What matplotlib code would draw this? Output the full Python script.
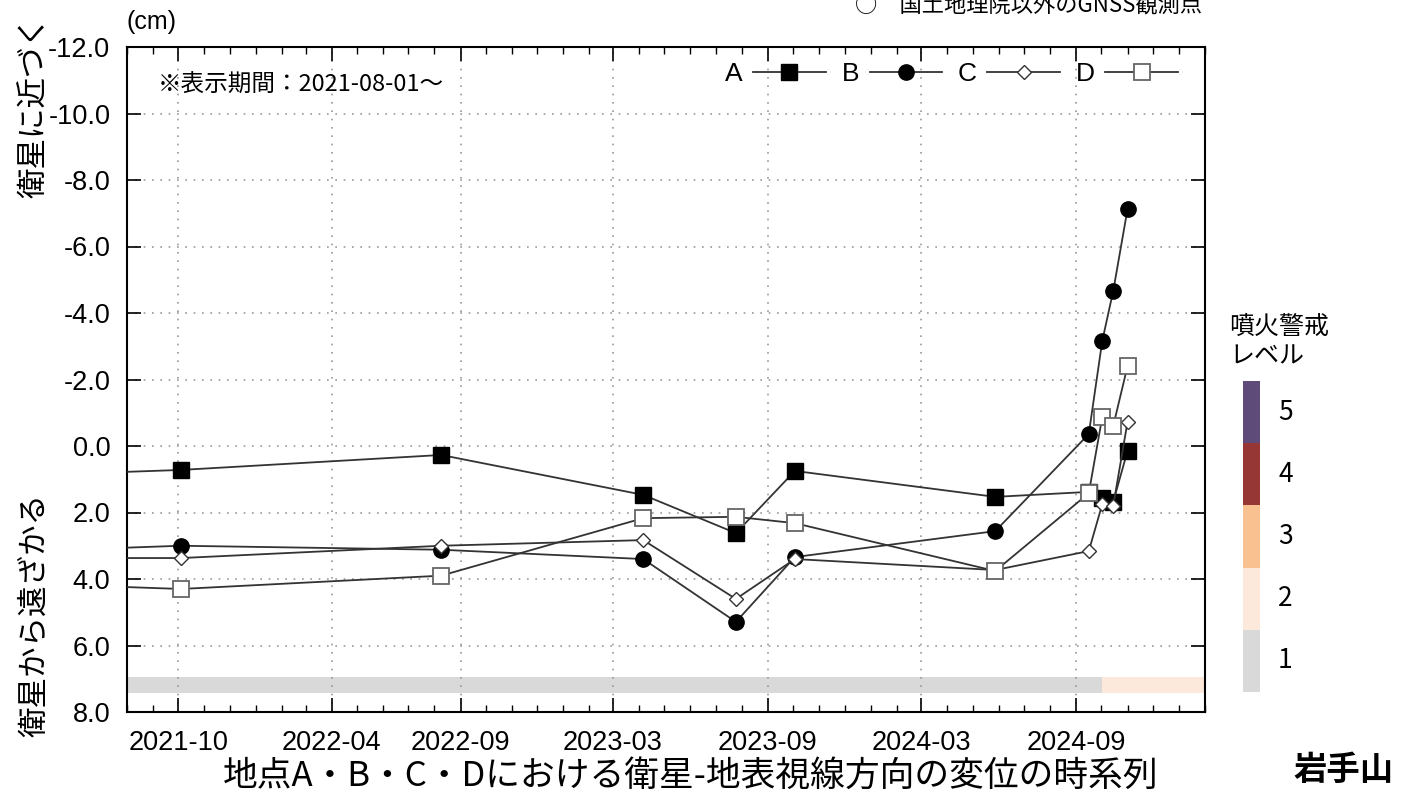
import numpy as np
import pandas as pd
import matplotlib
matplotlib.use("Agg")
import matplotlib.pyplot as plt
import matplotlib.dates as mdates
from matplotlib.lines import Line2D

# データ (cm, 正 = 衛星から遠ざかる)
obs_dates = ["2021-07-06", "2021-10-04", "2022-08-09", "2023-04-06", "2023-07-25",
             "2023-10-03", "2024-05-28", "2024-09-16", "2024-10-02", "2024-10-15",
             "2024-11-01"]
val_a = [0.80, 0.72, 0.27, 1.47, 2.62, 0.75, 1.53, 1.38, 1.56, 1.68, 0.15]
val_b = [3.08, 3.00, 3.12, 3.40, 5.29, 3.34, 2.56, -0.36, -3.16, -4.66, -7.12]
val_c = [3.37, 3.37, 3.00, 2.83, 4.60, 3.40, 3.73, 3.16, 1.75, 1.80, -0.72]
val_d = [4.22, 4.30, 3.90, 2.17, 2.13, 2.32, 3.76, 1.42, -0.87, -0.60, -2.40]

series_names = ["A", "B", "C", "D"]

# 噴火警戒レベル (期間)
level_dates = ["2021-08-01", "2024-10-02", "2025-02-01"]
level_vals = [1, 2]
level_colors = {1: "#d9d9d9", 2: "#fde9dc", 3: "#f9c090", 4: "#973735", 5: "#5e4b7a"}

xticks = ["2021-10-01", "2022-04-01", "2022-09-01", "2023-03-01", "2023-09-01",
          "2024-03-01", "2024-09-01"]
yticks = [-12, -10, -8, -6, -4, -2, 0, 2, 4, 6, 8]

jp = ["Noto Sans CJK JP", "DejaVu Sans"]
lat = ["Liberation Sans", "DejaVu Sans"]

fig = plt.figure(figsize=(14.11, 7.92), dpi=100)
ax = fig.add_axes([127/1411, 1-712/792, 1078/1411, 665/792])

t = pd.to_datetime(obs_dates)
styles = [
    dict(marker="s", ms=11, mfc="black", mec="black"),
    dict(marker="o", ms=11, mfc="black", mec="black"),
    dict(marker="D", ms=7, mfc="white", mec="#333333", mew=1.0),
    dict(marker="s", ms=11, mfc="white", mec="#666666", mew=1.3),
]
handles = []
for vals, name, st in zip([val_a, val_b, val_c, val_d], series_names, styles):
    ax.plot(t, vals, color="#333333", lw=1.3, zorder=3, **st)
    handles.append(Line2D([], [], color="#333333", lw=1.3, **st))

# 警戒レベル帯
ld = pd.to_datetime(level_dates)
for i, lv in enumerate(level_vals):
    ax.fill_between([ld[i], ld[i+1]], 6.95, 7.42, color=level_colors[lv], lw=0, zorder=1)

ax.set_xlim(pd.Timestamp("2021-08-01"), pd.Timestamp("2025-02-01"))
ax.set_ylim(8, -12)
ax.set_yticks(yticks)
ax.set_yticklabels(["%.1f" % v for v in yticks], fontsize=19.5, family=lat)
ax.set_xticks(pd.to_datetime(xticks))
ax.set_xticklabels([x[:7] for x in xticks], fontsize=19.5, family=lat)
ax.xaxis.set_minor_locator(mdates.MonthLocator())
ax.tick_params(which="major", direction="in", length=10, width=1.2, top=True, right=True)
ax.tick_params(axis="x", which="major", pad=13)
ax.tick_params(axis="y", which="major", pad=12)
ax.tick_params(which="minor", direction="in", length=5, width=1.0, top=True)
ax.tick_params(axis="y", which="minor", left=False, right=False)
ax.grid(True, which="major", ls=(0, (1, 4)), color="#999999", lw=1.2)
for s in ax.spines.values():
    s.set_linewidth(1.5)

ax.legend(handles, series_names, ncol=4, markerfirst=False, frameon=False,
          loc="upper right", bbox_to_anchor=(0.997, 1.013), handlelength=2.75,
          columnspacing=0.6, handletextpad=0.4, prop={"family": lat, "size": 19})

ax.text(0.029, 0.942, "※表示期間：2021-08-01～", transform=ax.transAxes,
        fontsize=17, family=jp, va="center")
fig.text(127/1411, 1-22/792, "(cm)", fontsize=18, family=lat, va="center")

fig.text(35/1411, 1-107/792, "衛星に近づく", rotation=90, fontsize=22, family=jp,
         ha="center", va="center")
fig.text(35/1411, 1-615/792, "衛星から遠ざかる", rotation=90, fontsize=22, family=jp,
         ha="center", va="center")
fig.text(691/1411, 1-776/792, "地点A・B・C・Dにおける衛星-地表視線方向の変位の時系列",
         fontsize=25, family=jp, ha="center", va="center")
fig.text(1343/1411, 1-770/792, "岩手山", fontsize=24, family=jp, weight="bold",
         ha="center", va="center")
fig.text(855/1411, 1-5/792, "○　国土地理院以外のGNSS観測点", fontsize=16, family=jp,
         va="center")

# 噴火警戒レベル凡例
cax = fig.add_axes([1243/1411, 1-692/792, 17/1411, 311/792])
lv_all = [1, 2, 3, 4, 5]
cax.bar(np.zeros(5), np.ones(5), bottom=np.arange(5), width=1,
        color=[level_colors[k] for k in lv_all])
cax.set_xlim(-0.5, 0.5)
cax.set_ylim(0, 5)
cax.axis("off")
for k in lv_all:
    cax.text(2.0, k-0.5, str(k), fontsize=19, family=jp, ha="center", va="center")
fig.text(1229/1411, 1-327/792, "噴火警戒", fontsize=18, family=jp, va="center")
fig.text(1229/1411, 1-356/792, "レベル", fontsize=18, family=jp, va="center")

fig.savefig("out.png", dpi=100)
